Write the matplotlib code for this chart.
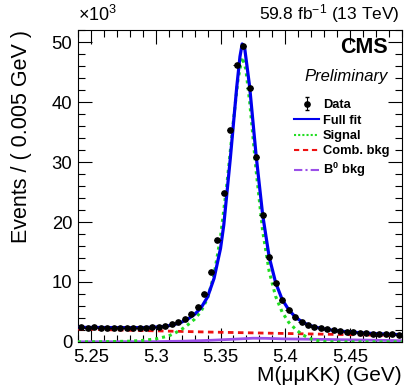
import matplotlib
matplotlib.use('Agg')
import matplotlib.pyplot as plt
import numpy as np
from matplotlib.ticker import MultipleLocator, FixedLocator
from matplotlib.lines import Line2D

# ---------------- data (values in units of 10^3 events) ----------------
x_lo, x_hi, n_bins = 5.24, 5.49, 50
data_counts = [2.42, 2.40, 2.41, 2.39, 2.38, 2.38, 2.37, 2.37, 2.36, 2.37,
               2.38, 2.42, 2.50, 2.67, 2.94, 3.30, 3.85, 4.65, 5.85, 7.95,
               11.6, 17.0, 24.8, 35.4, 46.2, 49.3, 42.3, 30.9, 21.2, 14.1,
               9.8, 7.0, 5.4, 4.1, 3.4, 2.8, 2.5, 2.3, 2.1, 1.95,
               1.83, 1.72, 1.60, 1.50, 1.45, 1.40, 1.35, 1.30, 1.25, 1.20]

fit_x = [5.24, 5.26, 5.28, 5.29, 5.30, 5.305, 5.31, 5.315, 5.32, 5.325,
         5.33, 5.335, 5.34, 5.345, 5.35, 5.3525, 5.3575, 5.3625, 5.365,
         5.3667, 5.3685, 5.3725, 5.3775, 5.3825, 5.3875, 5.3925, 5.3975,
         5.4025, 5.4075, 5.4125, 5.4175, 5.4225, 5.43, 5.44, 5.45, 5.46,
         5.47, 5.48, 5.49]
fit_full = [2.42, 2.40, 2.38, 2.39, 2.47, 2.55, 2.70, 2.95, 3.30, 3.85,
            4.60, 5.70, 7.50, 10.6, 15.6, 19.5, 30.5, 42.5, 47.6,
            49.7, 49.2, 42.5, 31.0, 21.2, 14.2, 9.9, 7.1,
            5.4, 4.2, 3.4, 2.85, 2.5, 2.15, 1.85, 1.65, 1.50,
            1.38, 1.28, 1.20]

sig_x = [5.24, 5.26, 5.28, 5.29, 5.30, 5.305, 5.31, 5.315, 5.32, 5.325,
         5.33, 5.335, 5.34, 5.345, 5.35, 5.355, 5.36, 5.3635, 5.3667,
         5.3695, 5.3725, 5.3775, 5.3825, 5.3875, 5.3925, 5.3975, 5.4025,
         5.4075, 5.4125, 5.4175, 5.4225, 5.43, 5.44, 5.49]
sig_vals = [0.0, 0.03, 0.12, 0.25, 0.50, 0.75, 1.0, 1.5, 2.1, 2.9,
            3.8, 5.1, 7.3, 11.2, 17.5, 26.5, 37.0, 43.8, 47.5,
            45.5, 40.0, 28.5, 18.5, 11.8, 7.6, 5.0, 3.3,
            2.2, 1.3, 0.7, 0.3, 0.05, 0.0, 0.0]

comb_x = [5.24, 5.29, 5.34, 5.39, 5.44, 5.49]
comb_vals = [2.15, 1.90, 1.65, 1.45, 1.25, 1.05]

b0_x = [5.24, 5.30, 5.32, 5.34, 5.36, 5.375, 5.385, 5.40, 5.42, 5.45, 5.47, 5.49]
b0_vals = [0.02, 0.05, 0.12, 0.25, 0.45, 0.62, 0.60, 0.50, 0.45, 0.35, 0.28, 0.20]

legend_labels = ['Data', 'Full fit', 'Signal', 'Comb. bkg', r'B$^{\mathbf{0}}$ bkg']

# ---------------- style ----------------
plt.rcParams['font.family'] = ['Liberation Sans', 'DejaVu Sans']
plt.rcParams['mathtext.fontset'] = 'custom'
plt.rcParams['mathtext.rm'] = 'Liberation Sans'
plt.rcParams['mathtext.it'] = 'Liberation Sans:italic'
plt.rcParams['mathtext.bf'] = 'Liberation Sans:bold'

fig = plt.figure(figsize=(4.04, 3.89), dpi=100)
ax = fig.add_axes([0.193, 0.121, 0.802, 0.803])

edges = np.linspace(x_lo, x_hi, n_bins + 1)
centers = 0.5 * (edges[:-1] + edges[1:])
counts = np.array(data_counts)
errs = np.sqrt(counts * 1000.0) / 1000.0

ax.plot(b0_x, b0_vals, color='#9b4fe8', lw=2.0, ls='-', zorder=3)
ax.plot(comb_x, comb_vals, color='#ee1111', lw=2.0, ls=(0, (2.0, 1.6)), zorder=3)
ax.plot(sig_x, sig_vals, color='#22dd22', lw=2.2, ls=(0, (1.0, 1.3)), zorder=4)
ax.plot(fit_x, fit_full, color='#0000ee', lw=2.3, ls='-', zorder=5)
ax.errorbar(centers, counts, yerr=errs, xerr=0.0025, fmt='o', color='black',
            ms=3.8, elinewidth=0.7, capsize=0, zorder=6)

# legend handles
h_data = ax.errorbar([np.nan], [np.nan], yerr=[1], fmt='o', color='black', ms=3.8,
                     elinewidth=0.8, capsize=1.5)
h_full = Line2D([], [], color='#0000ee', lw=1.5)
h_sig = Line2D([], [], color='#22dd22', lw=1.5, ls=(0, (1.0, 1.0)))
h_comb = Line2D([], [], color='#ee1111', lw=1.5, ls=(0, (2.5, 1.8)))
h_b0 = Line2D([], [], color='#9b4fe8', lw=1.5, ls=(0, (4, 1.5, 1, 1.5)))
ax.legend([h_data, h_full, h_sig, h_comb, h_b0], legend_labels,
          loc='upper left', bbox_to_anchor=(0.668, 0.777), frameon=False,
          prop={'size': 9.3, 'weight': 'bold'}, handlelength=1.9,
          handletextpad=0.3, labelspacing=0.26, borderpad=0, borderaxespad=0)

ax.set_xlim(x_lo, x_hi)
ax.set_ylim(0, 52.1)
ax.xaxis.set_major_locator(FixedLocator([5.25, 5.30, 5.35, 5.40, 5.45]))
ax.set_xticklabels(['5.25', '5.3', '5.35', '5.4', '5.45'])
ax.xaxis.set_minor_locator(MultipleLocator(0.01))
ax.yaxis.set_major_locator(MultipleLocator(10))
ax.yaxis.set_minor_locator(MultipleLocator(2))
ax.tick_params(which='both', direction='in', top=True, right=True, labelsize=13.3,
               width=0.8)
ax.tick_params(which='major', length=10)
ax.tick_params(which='minor', length=5)
ax.tick_params(axis='x', pad=5)
ax.tick_params(axis='y', pad=4)
for s in ax.spines.values():
    s.set_linewidth(0.8)

ax.set_xlabel('M(μμKK) (GeV)', fontsize=15, loc='right', labelpad=0)
ax.set_ylabel('Events / ( 0.005 GeV )', fontsize=15.5, loc='top', labelpad=14)

fig.text(0.193, 0.935, r'$\times$10$^{3}$', fontsize=13, ha='left', va='bottom')
fig.text(0.99, 0.935, r'59.8 fb$^{-1}$ (13 TeV)', fontsize=12.5, ha='right', va='bottom')
ax.text(0.955, 0.941, 'CMS', transform=ax.transAxes, fontsize=15.5, fontweight='bold',
        ha='right', va='center')
ax.text(0.955, 0.851, 'Preliminary', transform=ax.transAxes, fontsize=12,
        style='italic', ha='right', va='center')

fig.savefig('out.png', dpi=100)
